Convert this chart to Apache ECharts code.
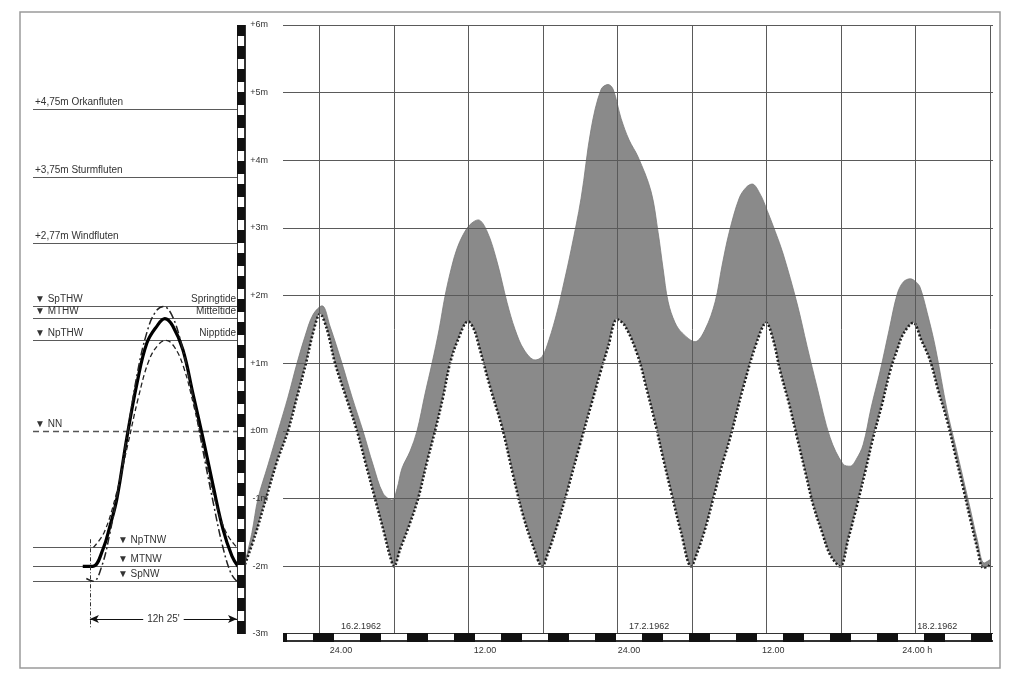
<!DOCTYPE html>
<html><head><meta charset="utf-8">
<script src="https://cdn.jsdelivr.net/npm/echarts@6/dist/echarts.min.js"></script>
<style>html,body{margin:0;padding:0;background:#fff}#c{width:1024px;height:682px}</style>
</head><body><div id="c"></div>
<script>
// ---------- DATA ----------
const HALF_TIDE = 6.20833;        // 6h 12.5'  (grid spacing, hours)
const TIDE_PERIOD = 12.41667;     // 12h 25'
const HOURS_SPAN = 62.0833;       // hours shown (from 16.2.1962 16:00)

const levelTicks = [-3, -2, -1, 0, 1, 2, 3, 4, 5, 6];
const levelTickLabels = ['-3m', '-2m', '-1m', '±0m', '+1m', '+2m', '+3m', '+4m', '+5m', '+6m'];

const timeLabelHours = [8, 20, 32, 44, 56];
const timeLabels = ['24.00', '12.00', '24.00', '12.00', '24.00 h'];
const dateLabelHours = [8, 32, 56];
const dateLabels = ['16.2.1962', '17.2.1962', '18.2.1962'];

// predicted (astronomical) tide, hours since 16.2.1962 16:00 / metres NN
const lowerHours = [0.00,0.83,1.75,2.67,3.58,4.33,5.08,5.67,6.25,6.83,7.50,8.42,9.33,10.08,10.83,11.58,12.08,12.42,
  12.92,13.67,14.42,15.17,15.83,16.50,17.08,17.75,18.58,19.08,19.42,20.42,21.42,22.33,23.17,24.00,24.75,
  25.25,26.00,26.83,27.83,28.83,29.58,30.25,31.00,31.67,32.75,33.42,34.17,34.83,35.50,36.33,37.17,
  37.67,38.33,39.08,39.75,40.42,41.50,42.67,43.42,44.00,44.58,45.33,46.00,46.67,47.33,48.08,48.75,49.58,
  50.25,51.00,51.67,52.33,53.08,53.75,54.33,54.83,55.67,56.33,57.08,57.75,58.50,59.17,59.83,60.42,61.00,61.50,61.92,62.08];
const lowerLevels = [-1.97,-1.55,-1.0,-0.45,0.0,0.5,1.0,1.45,1.73,1.5,1.0,0.5,0.0,-0.5,-1.0,-1.5,-1.85,-2.0,
  -1.75,-1.4,-1.0,-0.45,0.0,0.5,1.0,1.35,1.62,1.5,1.3,0.65,0.05,-0.65,-1.25,-1.7,-2.0,
  -1.8,-1.4,-0.9,-0.25,0.38,0.85,1.24,1.65,1.55,1.1,0.65,0.12,-0.4,-0.9,-1.5,-2.0,
  -1.8,-1.45,-0.95,-0.5,-0.1,0.64,1.33,1.6,1.35,0.89,0.4,-0.1,-0.6,-1.09,-1.5,-1.83,-2.0,
  -1.6,-1.09,-0.6,-0.1,0.4,0.89,1.2,1.43,1.6,1.35,1.04,0.6,0.15,-0.35,-0.84,-1.3,-1.73,-2.02,-2.0,-1.95];

// observed water level (storm surge 1962)
const upperHours = [0.00,0.58,1.08,1.92,2.75,3.58,4.33,5.00,5.67,6.42,7.08,8.08,8.92,9.83,10.67,11.50,12.25,12.67,13.08,13.75,
  14.33,15.00,15.58,16.17,16.67,17.25,17.67,18.17,18.75,19.42,20.17,21.00,21.83,22.50,23.25,24.17,24.75,25.33,26.00,
  26.58,27.17,28.00,28.83,29.67,30.25,30.67,31.33,32.00,32.75,33.83,34.42,34.83,35.25,35.83,36.42,37.50,38.33,39.17,
  39.75,40.33,41.17,41.75,42.25,42.92,43.50,44.17,44.83,46.00,46.83,47.67,48.75,49.83,50.42,50.92,51.50,52.17,52.92,
  53.67,54.33,54.83,55.42,55.92,56.25,56.83,57.50,58.50,59.17,59.83,60.42,61.00,61.58,62.08];
const upperLevels = [-1.95,-1.5,-1.0,-0.5,0.0,0.5,1.0,1.4,1.72,1.85,1.55,1.0,0.5,0.0,-0.5,-0.92,-1.02,-0.85,-0.55,-0.3,
  0.0,0.55,1.0,1.5,2.0,2.45,2.7,2.9,3.05,3.12,2.95,2.5,1.9,1.5,1.2,1.05,1.1,1.35,1.76,
  2.2,2.68,3.44,4.46,5.05,5.12,5.05,4.62,4.3,4.05,3.54,2.93,2.4,1.91,1.6,1.45,1.32,1.5,1.91,
  2.45,2.93,3.44,3.6,3.65,3.5,3.26,2.95,2.62,1.88,1.25,0.64,-0.1,-0.49,-0.52,-0.42,-0.2,0.35,0.89,
  1.5,2.02,2.2,2.25,2.2,2.12,1.75,1.25,0.3,-0.2,-0.7,-1.15,-1.6,-1.95,-1.9];

// left panel: schematic tide curves (hours after low water / metres NN)
const meanHours = [-0.6,0.25,1.1,1.7,2.28,3.12,3.97,4.81,5.66,6.33,7.0,7.85,8.7,9.54,10.39,11.23,11.99,12.5];
const meanLevels = [-2.0,-2.0,-1.75,-1.4,-1.0,-0.1,0.7,1.3,1.55,1.66,1.55,1.2,0.55,-0.1,-0.8,-1.45,-1.85,-2.0];
const springHours = [-0.3,0.3,1.0,1.7,2.4,3.2,4.0,4.8,5.5,6.2,6.9,7.7,8.6,9.5,10.4,11.2,11.9,12.4];
const springLevels = [-2.18,-2.22,-2.0,-1.5,-0.85,0.0,0.85,1.45,1.75,1.84,1.72,1.3,0.6,-0.25,-1.05,-1.7,-2.1,-2.22];
const neapHours = [0.3,1.2,2.2,3.2,4.1,5.0,5.8,6.4,7.1,7.9,8.8,9.7,10.6,11.5,12.4];
const neapLevels = [-1.72,-1.5,-0.95,-0.2,0.5,1.05,1.28,1.34,1.25,0.95,0.35,-0.35,-1.05,-1.5,-1.72];

const floodLevels = [4.75, 3.75, 2.77];
const floodNames = ['+4,75m Orkanfluten', '+3,75m Sturmfluten', '+2,77m Windfluten'];
const hwLevels = [1.84, 1.66, 1.34];
const hwNames = ['▼ SpTHW', '▼ MTHW', '▼ NpTHW'];
const tideNames = ['Springtide', 'Mitteltide', 'Nipptide'];
const nwLevels = [-1.72, -2.0, -2.22];
const nwNames = ['▼ NpTNW', '▼ MTNW', '▼ SpNW'];
const nwLabelHour = 2.2;
const nnLevel = 0;
const periodLabel = "12h 25'";

// ---------- CHART ----------
const pairs = (xs, ys) => xs.map((x, i) => [x, ys[i]]);
const FONT = 'Liberation Sans, Arial, sans-serif';
const TXT = '#333';
const LINE = '#5a5a5a';
const CLEAR = 'rgba(0,0,0,0)';

function barAxis(grid, pos, width, color, type, z, extra) {
  return Object.assign({
    gridIndex: grid, type: 'value', position: pos, min: 0, max: 1, z: z,
    axisLine: { show: true, onZero: false, lineStyle: { width: width, color: color, type: type || 'solid', cap: 'butt' } },
    axisTick: { show: false }, axisLabel: { show: false }, splitLine: { show: false }
  }, extra || {});
}

const hideAxis = (grid, min, max) => ({
  gridIndex: grid, type: 'value', min: min, max: max,
  axisLine: { show: false, onZero: false }, axisTick: { show: false },
  axisLabel: { show: false }, splitLine: { show: false }
});

const leftLine = (v, label, style) => ({
  yAxis: v,
  lineStyle: style || { color: LINE, width: 1, type: 'solid' },
  label: { show: !!label, formatter: label || '', position: 'insideStartTop', distance: 2,
           color: TXT, fontSize: 10, fontFamily: FONT }
});

const chart = echarts.init(document.getElementById('c'));
chart.setOption({
  animation: false,
  backgroundColor: '#fff',
  graphic: [{ type: 'rect', shape: { x: 20, y: 12, width: 980, height: 656 },
              style: { fill: 'none', stroke: '#9a9a9a', lineWidth: 1.5 }, z: 0 }],
  grid: [
    { left: 245, right: 1024 - 990.2, top: 25, bottom: 48 },   // main plot
    { left: 283, right: 31, top: 25, bottom: 48 },              // gridlines & labels
    { left: 33, right: 1024 - 238, top: 25, bottom: 48 }        // left schematic
  ],
  xAxis: [
    { gridIndex: 0, type: 'value', min: 0, max: HOURS_SPAN, interval: HALF_TIDE, z: 3,
      axisLine: { show: false, onZero: false }, axisTick: { show: false }, axisLabel: { show: false },
      splitLine: { show: true, lineStyle: { color: LINE, width: 1 } } },
    { gridIndex: 0, type: 'value', position: 'bottom', min: 0, max: HOURS_SPAN,
      axisLine: { show: false, onZero: false }, axisTick: { show: false }, splitLine: { show: false },
      axisLabel: { show: true, customValues: timeLabelHours, margin: 12, fontSize: 9, color: TXT, fontFamily: FONT,
        formatter: v => timeLabels[timeLabelHours.indexOf(v)] } },
    { gridIndex: 0, type: 'value', position: 'bottom', min: 0, max: HOURS_SPAN, offset: -18, z: 4,
      axisLine: { show: false, onZero: false }, axisTick: { show: false }, splitLine: { show: false },
      axisLabel: { show: true, customValues: dateLabelHours, margin: 6, fontSize: 9, color: TXT,
        fontFamily: FONT, align: 'left',
        formatter: v => dateLabels[dateLabelHours.indexOf(v)] } },
    barAxis(1, 'bottom', 9, '#333', 'solid', 5, { offset: 3 }),
    barAxis(1, 'bottom', 6, '#fff', 'solid', 6, { offset: 3 }),
    barAxis(1, 'bottom', 9, '#111', [21, 26], 7, { offset: 3, axisLine: { show: true, onZero: false,
      lineStyle: { width: 9, color: '#111', type: [21, 26], dashOffset: 17, cap: 'butt' } } }),
    hideAxis(2, -4.8, 12.5)
  ],
  yAxis: [
    hideAxis(0, -3, 6),
    barAxis(0, 'left', 9, '#333', 'solid', 5, { min: -3, max: 6, offset: 4 }),
    barAxis(0, 'left', 6, '#fff', 'solid', 6, { min: -3, max: 6, offset: 4 }),
    barAxis(0, 'left', 8, '#111', [13, 10], 7, { min: -3, max: 6, offset: 4 }),
    { gridIndex: 1, type: 'value', min: -3, max: 6, interval: 1, z: 3,
      axisLine: { show: false, onZero: false }, axisTick: { show: false },
      splitLine: { show: true, lineStyle: { color: LINE, width: 1 } },
      axisLabel: { show: true, margin: 15, fontSize: 9, color: TXT, fontFamily: FONT,
        formatter: v => levelTickLabels[levelTicks.indexOf(Math.round(v))] } },
    hideAxis(2, -3, 6)
  ],
  series: [
    { name: 'Wasserstand 16./17.2.1962', type: 'line', xAxisIndex: 0, yAxisIndex: 0,
      data: pairs(upperHours, upperLevels), smooth: 0.35, symbol: 'none', z: 2,
      lineStyle: { color: '#7a7a7a', width: 0.8 },
      areaStyle: { color: '#8a8a8a', opacity: 1, origin: 'start' } },
    { name: 'Astronomische Tide', type: 'line', xAxisIndex: 0, yAxisIndex: 0,
      data: pairs(lowerHours, lowerLevels), smooth: 0.35, symbol: 'none', z: 2,
      lineStyle: { color: '#1e1e1e', width: 2.6, type: [2, 2] },
      areaStyle: { color: '#fff', opacity: 1, origin: 'start' } },
    { name: 'Mitteltide', type: 'line', xAxisIndex: 6, yAxisIndex: 5,
      data: pairs(meanHours, meanLevels), smooth: 0.4, symbol: 'none', z: 4,
      lineStyle: { color: '#000', width: 3.2 },
      markLine: { symbol: 'none', silent: true, z: 3,
        data: floodLevels.map((v, i) => leftLine(v, floodNames[i]))
          .concat(hwLevels.map((v, i) => leftLine(v, hwNames[i])))
          .concat([leftLine(nnLevel, '▼ NN', { color: '#555', width: 1.3, type: [6, 4] })])
          .concat(nwLevels.map(v => leftLine(v, ''))) } },
    { name: 'Springtide', type: 'line', xAxisIndex: 6, yAxisIndex: 5,
      data: pairs(springHours, springLevels), smooth: 0.4, symbol: 'none', z: 4,
      lineStyle: { color: '#222', width: 1.5, type: [8, 3, 2, 3] },
      markLine: { symbol: 'none', silent: true,
        data: hwLevels.map((v, i) => ({ yAxis: v, lineStyle: { color: CLEAR, width: 0 },
            label: { show: true, formatter: tideNames[i], position: 'insideEndTop', distance: 2,
                     color: TXT, fontSize: 10, fontFamily: FONT } }))
          .concat(nwLevels.map((v, i) => [
            { coord: [nwLabelHour, v], lineStyle: { color: CLEAR, width: 0 },
              label: { show: true, formatter: nwNames[i], position: 'insideStartTop', distance: 2,
                       color: TXT, fontSize: 10, fontFamily: FONT } },
            { coord: [12.5, v] }])) } },
    { name: 'Nipptide', type: 'line', xAxisIndex: 6, yAxisIndex: 5,
      data: pairs(neapHours, neapLevels), smooth: 0.4, symbol: 'none', z: 4,
      lineStyle: { color: '#222', width: 1.3, type: [5, 3] },
      markLine: { silent: true,
        data: [
          [{ coord: [0, -2.78], symbol: 'arrow', symbolSize: [6, 9],
             lineStyle: { color: '#111', width: 1, type: 'solid' },
             label: { formatter: periodLabel, position: 'middle', verticalAlign: 'middle', distance: 0,
                      color: TXT, fontSize: 10, fontFamily: FONT, backgroundColor: '#fff', padding: [0, 4] } },
           { coord: [TIDE_PERIOD, -2.78], symbol: 'arrow', symbolSize: [6, 9] }],
          [{ coord: [0, -1.6], symbol: 'none', lineStyle: { color: '#333', width: 1, type: [4, 2, 1, 2] },
             label: { show: false } },
           { coord: [0, -2.93], symbol: 'none' }]
        ] } }
  ]
});
</script></body></html>
